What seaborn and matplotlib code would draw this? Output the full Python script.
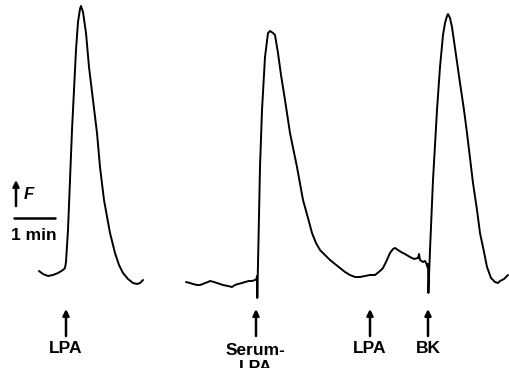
import matplotlib
matplotlib.use("Agg")
import matplotlib.pyplot as plt
import seaborn as sns
import pandas as pd

# Trace 1: LPA response (time and signal in figure units, signal axis inverted)
trace1_t = [39, 43, 48, 53, 58, 63, 65, 66, 68, 70, 72, 74, 76, 78, 80, 81, 83, 86, 89,
            93, 97, 100, 104, 110, 115, 119, 123, 128, 133, 137, 140, 143]
trace1_f = [271, 274, 276, 275, 273, 270, 268, 262, 230, 180, 130, 90, 50, 22, 9, 6, 12, 33, 67,
            100, 133, 167, 200, 233, 253, 265, 273, 279, 283, 284, 283, 280]

# Trace 2: Serum-LPA, LPA, BK
trace2_t = [186, 190, 193, 197, 200, 203, 205, 208, 210, 214, 217, 220, 223, 228, 232, 235,
            238, 242, 245, 249, 252, 255, 256.5, 257, 257.3, 258.5, 260, 262, 265, 268, 270, 273,
            275, 278, 281, 285, 290, 297, 303, 308, 312, 316, 320, 325, 330, 335, 340, 345,
            350, 355, 360, 365, 370, 375, 380, 383, 386, 390, 393, 395, 398, 401, 405, 410,
            414, 418, 419, 420, 423, 425, 427, 427.6, 428, 428.4, 430, 433, 437, 440, 443, 445,
            447, 448, 450, 452, 456, 460, 464, 467, 470, 473, 477, 480, 484, 487, 491, 495,
            498, 500, 504, 508]
trace2_f = [282, 283, 284, 285, 285, 284, 283, 282, 281, 282, 283, 284, 285, 286, 287, 285,
            284, 283, 282, 281, 281, 280, 279, 276, 298, 240, 167, 110, 57, 33, 31, 33,
            35, 53, 75, 100, 133, 167, 200, 218, 233, 243, 250, 255, 260, 264, 268, 272,
            275, 277, 277, 276, 275, 275, 271, 268, 262, 253, 249, 248, 250, 252, 254, 257,
            259, 258, 254, 260, 262, 261, 265, 267, 264, 293, 250, 180, 110, 67, 35, 23,
            16, 14, 18, 27, 55, 83, 110, 133, 158, 183, 210, 233, 252, 267, 278, 282,
            283, 281, 279, 275]

# Stimulus markers
event_t = [66, 256, 370, 428]
event_labels = ["LPA", "Serum-\nLPA", "LPA", "BK"]

W, H = 509, 368

sns.set_theme(style="white")
plt.rcParams["font.family"] = ["Liberation Sans", "DejaVu Sans"]

fig = plt.figure(figsize=(W / 100, H / 100), dpi=100)
ax = fig.add_axes([0, 0, 1, 1])

df1 = pd.DataFrame({"t": trace1_t, "F": trace1_f})
df2 = pd.DataFrame({"t": trace2_t, "F": trace2_f})
sns.lineplot(data=df1, x="t", y="F", sort=False, estimator=None, color="black", lw=1.4, ax=ax)
sns.lineplot(data=df2, x="t", y="F", sort=False, estimator=None, color="black", lw=1.4, ax=ax)

# stimulus arrows and labels
for t, lab in zip(event_t, event_labels):
    ax.annotate("", xy=(t, 309), xytext=(t, 336),
                arrowprops=dict(arrowstyle="-|>", lw=1.8, color="black", mutation_scale=9,
                                shrinkA=0, shrinkB=0))
    # first line baseline sits at the same height for every label
    ax.text(t, 353 + 19 * lab.count("\n"), lab, ha="center", va="baseline", fontsize=12.5,
            fontweight="bold", color="black", linespacing=1.15)

# scale: F arrow and 1 min bar
ax.annotate("", xy=(16, 180), xytext=(16, 206),
            arrowprops=dict(arrowstyle="-|>", lw=1.8, color="black", mutation_scale=9,
                            shrinkA=0, shrinkB=0))
ax.text(24, 199, "F", ha="left", va="baseline", fontsize=12, fontstyle="italic",
        fontweight="bold", color="black")
ax.plot([14, 55], [218, 218], color="black", lw=1.8)
ax.text(34, 240, "1 min", ha="center", va="baseline", fontsize=12.5, fontweight="bold",
        color="black")

ax.set_xlim(0, W)
ax.set_ylim(H, 0)
ax.set_axis_off()

fig.savefig("out.png", dpi=100)
